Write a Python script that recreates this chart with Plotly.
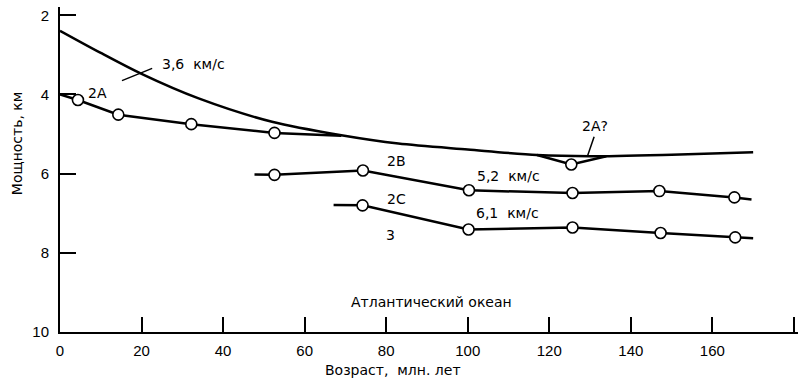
import plotly.graph_objects as go

# ---- data ----
curve_age   = [0, 10, 20, 34, 52, 69, 83, 100, 117, 130, 150, 170]
curve_depth = [2.39, 2.95, 3.48, 4.1, 4.69, 5.03, 5.24, 5.39, 5.53, 5.56, 5.52, 5.46]

a2_age    = [0, 4.4, 14.3, 32.2, 52.6, 69]
a2_depth  = [4.0, 4.14, 4.51, 4.75, 4.97, 5.04]
a2_circle = [False, True, True, True, True, False]

a2q_age    = [117, 125.4, 134]
a2q_depth  = [5.53, 5.77, 5.56]
a2q_circle = [False, True, False]

b2_age    = [47.7, 52.6, 74.3, 100.3, 125.7, 147, 165.4, 169.6]
b2_depth  = [6.02, 6.03, 5.92, 6.42, 6.49, 6.44, 6.60, 6.65]
b2_circle = [False, True, True, True, True, True, True, False]

c2_age    = [67.1, 74.2, 100.2, 125.7, 147.3, 165.6, 170]
c2_depth  = [6.79, 6.80, 7.41, 7.36, 7.50, 7.61, 7.63]
c2_circle = [False, True, True, True, True, True, False]

x_ticks = [0, 20, 40, 60, 80, 100, 120, 140, 160, 180]
x_tick_labels = ["0", "20", "40", "60", "80", "100", "120", "140", "160", ""]
y_ticks = [2, 4, 6, 8, 10]
y_tick_labels = ["2", "4", "6", "8", "10"]

# labels: (text, age, depth, anchor)
labels = [
    ("3,6\u00a0\u00a0км/с", 24.6, 3.23, "left"),
    ("2A", 9.1, 3.96, "center"),
    ("2A?", 131.2, 4.80, "center"),
    ("2B", 82.6, 5.68, "center"),
    ("5,2\u00a0\u00a0км/с", 101.8, 6.05, "left"),
    ("2C", 82.6, 6.65, "center"),
    ("6,1\u00a0\u00a0км/с", 101.6, 6.99, "left"),
    ("3", 81.0, 7.56, "center"),
    ("Атлантический океан", 91.0, 9.24, "center"),
]
# leader lines: (age0, depth0, age1, depth1)
leaders = [
    (15.2, 3.65, 22.6, 3.34),
    (131.0, 5.07, 129.4, 5.55),
]

LABEL_FONT = dict(family="DejaVu Sans", size=14, color="black")
TICK_FONT = dict(family="Liberation Sans, Arial", size=15, color="black")

fig = go.Figure()

fig.add_trace(go.Scatter(x=curve_age, y=curve_depth, mode="lines",
                         line=dict(color="black", width=2.5, shape="spline", smoothing=0.8),
                         showlegend=False, hoverinfo="skip"))

series = [(a2_age, a2_depth, a2_circle),
          (a2q_age, a2q_depth, a2q_circle),
          (b2_age, b2_depth, b2_circle),
          (c2_age, c2_depth, c2_circle)]

for ages, depths, circ in series:
    fig.add_trace(go.Scatter(x=ages, y=depths, mode="lines",
                             line=dict(color="black", width=2.5),
                             showlegend=False, hoverinfo="skip"))

for ages, depths, circ in series:
    fig.add_trace(go.Scatter(
        x=[a for a, c in zip(ages, circ) if c],
        y=[d for d, c in zip(depths, circ) if c],
        mode="markers",
        marker=dict(size=11, color="white", opacity=1,
                    line=dict(color="black", width=1.6)),
        showlegend=False, hoverinfo="skip"))

for (t, xa, ya, anc) in labels:
    fig.add_annotation(x=xa, y=ya, xref="x", yref="y", text=t, showarrow=False,
                       xanchor=anc, yanchor="middle", font=LABEL_FONT)

for (x0, y0, x1, y1) in leaders:
    fig.add_shape(type="line", xref="x", yref="y", x0=x0, y0=y0, x1=x1, y1=y1,
                  line=dict(color="black", width=1.5))

fig.add_annotation(x=-0.0587, y=0.58, xref="paper", yref="paper",
                   text="Мощность, км", textangle=-90, showarrow=False,
                   xanchor="center", yanchor="middle", font=LABEL_FONT)
fig.add_annotation(x=0.451, y=-0.117, xref="paper", yref="paper",
                   text="Возраст,\u00a0\u00a0млн.\u00a0лет", showarrow=False,
                   xanchor="center", yanchor="middle", font=LABEL_FONT)

fig.update_layout(
    width=801, height=382,
    margin=dict(l=60, r=3, t=7, b=50),
    paper_bgcolor="white", plot_bgcolor="white",
    hovermode=False,
    xaxis=dict(range=[0, 181], showgrid=False, zeroline=False,
               showline=True, linecolor="black", linewidth=2,
               ticks="inside", ticklen=15, tickwidth=1.5, tickcolor="black",
               tickvals=x_ticks, ticktext=x_tick_labels, tickfont=TICK_FONT,
               ticklabelstandoff=4),
    yaxis=dict(range=[10, 1.79], showgrid=False, zeroline=False,
               showline=True, linecolor="black", linewidth=2,
               ticks="inside", ticklen=16, tickwidth=1.5, tickcolor="black",
               tickvals=y_ticks, ticktext=y_tick_labels, tickfont=TICK_FONT,
               ticklabelstandoff=6),
)

fig.write_html("out.html", config={"displayModeBar": False},
               post_script="document.body.style.margin='0px';document.body.style.overflow='hidden';")
